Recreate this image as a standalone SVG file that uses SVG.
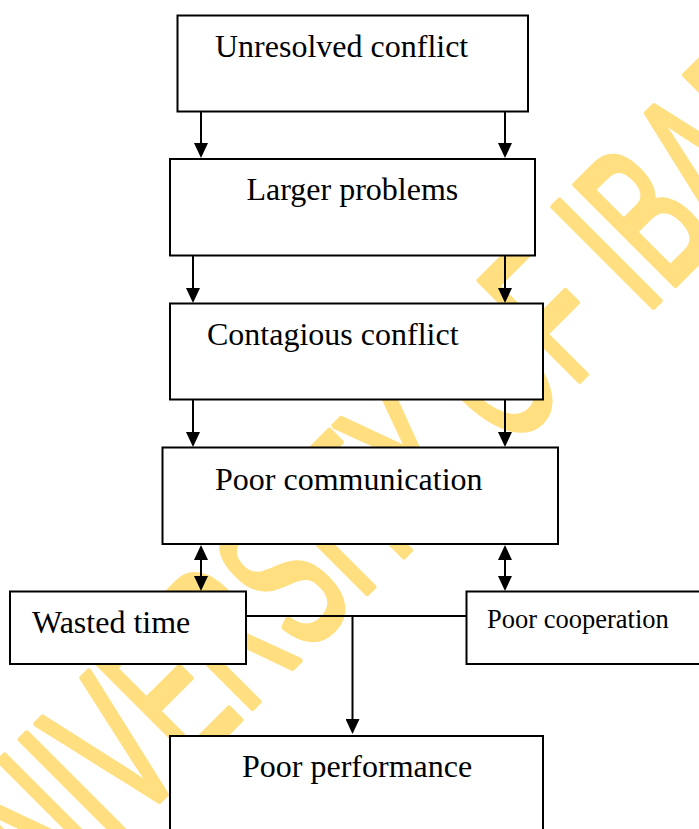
<svg xmlns="http://www.w3.org/2000/svg" width="699" height="829" viewBox="0 0 699 829">
  <style>
    .box { fill: #ffffff; stroke: #000000; stroke-width: 2; }
    .label { font-family: "Liberation Serif", "Times New Roman", serif; font-size: 32px; fill: #000000; }
    .small { font-size: 26.5px; }
    .wire { fill: none; stroke: #000000; stroke-width: 2; }
    .mark { font-family: "Liberation Sans", Arial, sans-serif; font-size: 205px; fill: #FFDF80; stroke: #FFDF80; stroke-width: 5; stroke-linejoin: round; }
  </style>
  <defs>
    <marker id="head" viewBox="0 0 15 14" refX="12" refY="7" markerWidth="15" markerHeight="14" markerUnits="userSpaceOnUse" orient="auto-start-reverse">
      <path d="M0,0 L15,7 L0,14 Z" fill="#000000"/>
    </marker>
  </defs>

  <rect width="699" height="829" fill="#ffffff"/>

  <!-- background watermark lettering -->
  <g id="watermark">
    <text class="mark" vector-effect="non-scaling-stroke" transform="translate(-6.5,966.5) rotate(-45) scale(0.567,1)">UNIVERSITY OF IBADAN</text>
  </g>

  <!-- connectors -->
  <g id="connectors">
    <line class="wire" x1="201" y1="111" x2="201" y2="155" marker-end="url(#head)"/>
    <line class="wire" x1="505" y1="111" x2="505" y2="155" marker-end="url(#head)"/>
    <line class="wire" x1="193" y1="256" x2="193" y2="300" marker-end="url(#head)"/>
    <line class="wire" x1="505" y1="256" x2="505" y2="300" marker-end="url(#head)"/>
    <line class="wire" x1="193" y1="400" x2="193" y2="444" marker-end="url(#head)"/>
    <line class="wire" x1="505" y1="400" x2="505" y2="444" marker-end="url(#head)"/>
    <line class="wire" x1="201" y1="548" x2="201" y2="588" marker-start="url(#head)" marker-end="url(#head)"/>
    <line class="wire" x1="505" y1="548" x2="505" y2="588" marker-start="url(#head)" marker-end="url(#head)"/>
    <line class="wire" x1="246" y1="616" x2="466" y2="616"/>
    <line class="wire" x1="352.5" y1="616" x2="352.5" y2="731" marker-end="url(#head)"/>
  </g>

  <g id="unresolved-conflict">
    <rect class="box" x="177.5" y="15.5" width="350.5" height="96"/>
    <text class="label" x="215" y="57">Unresolved conflict</text>
  </g>

  <g id="larger-problems">
    <rect class="box" x="170" y="159" width="365" height="96.5"/>
    <text class="label" x="246.5" y="200">Larger problems</text>
  </g>

  <g id="contagious-conflict">
    <rect class="box" x="170" y="303.5" width="373" height="96"/>
    <text class="label" x="207" y="344.5">Contagious conflict</text>
  </g>

  <g id="poor-communication">
    <rect class="box" x="162.5" y="447.5" width="395.5" height="96.5"/>
    <text class="label" x="215" y="489.5">Poor communication</text>
  </g>

  <g id="wasted-time">
    <rect class="box" x="10" y="591.5" width="236" height="72.5"/>
    <text class="label" x="32" y="632.5">Wasted time</text>
  </g>

  <g id="poor-cooperation">
    <rect class="box" x="466.5" y="591.5" width="240" height="72.5"/>
    <text class="label small" x="487" y="628">Poor cooperation</text>
  </g>

  <g id="poor-performance">
    <rect class="box" x="170" y="736" width="373" height="100"/>
    <text class="label" x="242" y="777">Poor performance</text>
  </g>
</svg>
